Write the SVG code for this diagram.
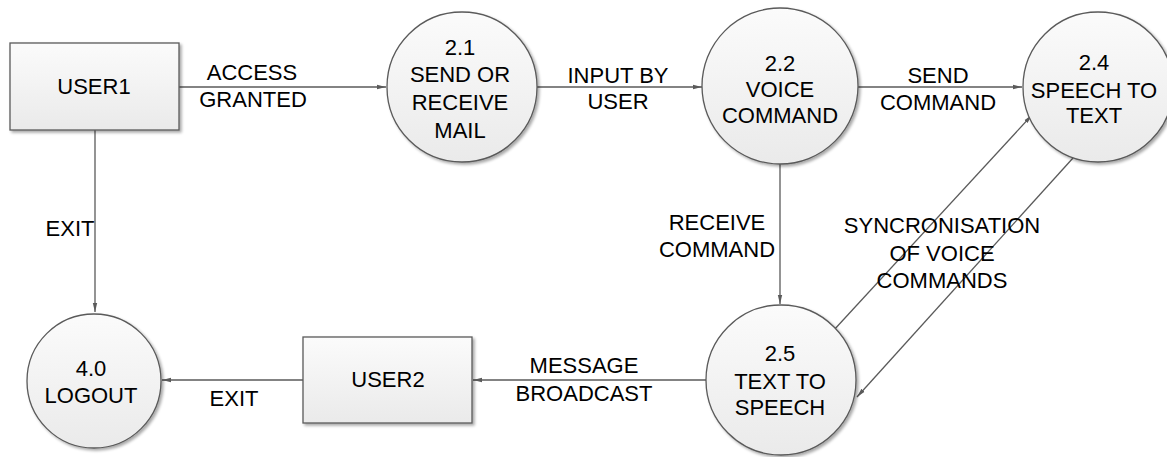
<svg xmlns="http://www.w3.org/2000/svg" width="1167" height="457" viewBox="0 0 1167 457">
<style>
.shape{fill:url(#g);stroke:#5a5a5a;stroke-width:1.3;filter:url(#sh)}
.lbl{font-family:"Liberation Sans",Arial,sans-serif;font-size:22px;fill:#000;text-anchor:middle}
.conn{stroke:#5a5a5a;stroke-width:1.3;fill:none;marker-end:url(#arr)}
</style>
<defs>
<linearGradient id="g" x1="0" y1="0" x2="0" y2="1">
<stop offset="0" stop-color="#fbfbfb"/>
<stop offset="1" stop-color="#eaeaea"/>
</linearGradient>
<filter id="sh" x="-10%" y="-10%" width="130%" height="130%">
<feGaussianBlur in="SourceAlpha" stdDeviation="1.5"/>
<feOffset dx="2" dy="2" result="b"/>
<feComponentTransfer><feFuncA type="linear" slope="0.35"/></feComponentTransfer>
<feMerge><feMergeNode/><feMergeNode in="SourceGraphic"/></feMerge>
</filter>
<marker id="arr" markerWidth="10" markerHeight="8" refX="9" refY="4" orient="auto" markerUnits="userSpaceOnUse">
<path d="M0,1.8 L9,4 L0,6.2 Z" fill="#5a5a5a"/>
</marker>
</defs>
<g id="connectors">
<line class="conn" x1="179" y1="87" x2="386" y2="87"/>
<line class="conn" x1="537" y1="87" x2="702" y2="87"/>
<line class="conn" x1="858" y1="87" x2="1022" y2="87"/>
<line class="conn" x1="95" y1="130" x2="95" y2="312"/>
<line class="conn" x1="780" y1="164" x2="780" y2="304"/>
<line class="conn" x1="303" y1="380" x2="162" y2="380"/>
<line class="conn" x1="706" y1="380" x2="473" y2="380"/>
<line class="conn" x1="833" y1="331" x2="1032" y2="115"/>
<line class="conn" x1="1073" y1="158" x2="857" y2="397"/>
<text class="lbl" x="252" y="80">ACCESS</text>
<text class="lbl" x="253" y="107">GRANTED</text>
<text class="lbl" x="618" y="83">INPUT BY</text>
<text class="lbl" x="618" y="109">USER</text>
<text class="lbl" x="938" y="83">SEND</text>
<text class="lbl" x="938" y="110">COMMAND</text>
<text class="lbl" x="70" y="236">EXIT</text>
<text class="lbl" x="234" y="406">EXIT</text>
<text class="lbl" x="584" y="373">MESSAGE</text>
<text class="lbl" x="584" y="401">BROADCAST</text>
<text class="lbl" x="717" y="230">RECEIVE</text>
<text class="lbl" x="717" y="257">COMMAND</text>
<text class="lbl" x="942" y="233">SYNCRONISATION</text>
<text class="lbl" x="942" y="261">OF VOICE</text>
<text class="lbl" x="942" y="288">COMMANDS</text>
</g>
<g id="user1">
<rect class="shape" x="10" y="43" width="169" height="87"/>
<text class="lbl" x="94" y="94">USER1</text>
</g>
<g id="p21">
<circle class="shape" cx="462" cy="87" r="75"/>
<text class="lbl" x="460" y="55">2.1</text>
<text class="lbl" x="460" y="82">SEND OR</text>
<text class="lbl" x="460" y="110">RECEIVE</text>
<text class="lbl" x="460" y="138">MAIL</text>
</g>
<g id="p22">
<circle class="shape" cx="780" cy="86" r="78"/>
<text class="lbl" x="780" y="71">2.2</text>
<text class="lbl" x="780" y="97">VOICE</text>
<text class="lbl" x="780" y="123">COMMAND</text>
</g>
<g id="p24">
<circle class="shape" cx="1098" cy="87" r="75"/>
<text class="lbl" x="1094" y="70">2.4</text>
<text class="lbl" x="1094" y="98">SPEECH TO</text>
<text class="lbl" x="1094" y="123">TEXT</text>
</g>
<g id="p25">
<circle class="shape" cx="781" cy="380" r="75"/>
<text class="lbl" x="780" y="361">2.5</text>
<text class="lbl" x="780" y="389">TEXT TO</text>
<text class="lbl" x="780" y="415">SPEECH</text>
</g>
<g id="p40">
<circle class="shape" cx="94" cy="381" r="67"/>
<text class="lbl" x="91" y="376">4.0</text>
<text class="lbl" x="91" y="403">LOGOUT</text>
</g>
<g id="user2">
<rect class="shape" x="303" y="337" width="169" height="86"/>
<text class="lbl" x="388" y="387">USER2</text>
</g>
</svg>
